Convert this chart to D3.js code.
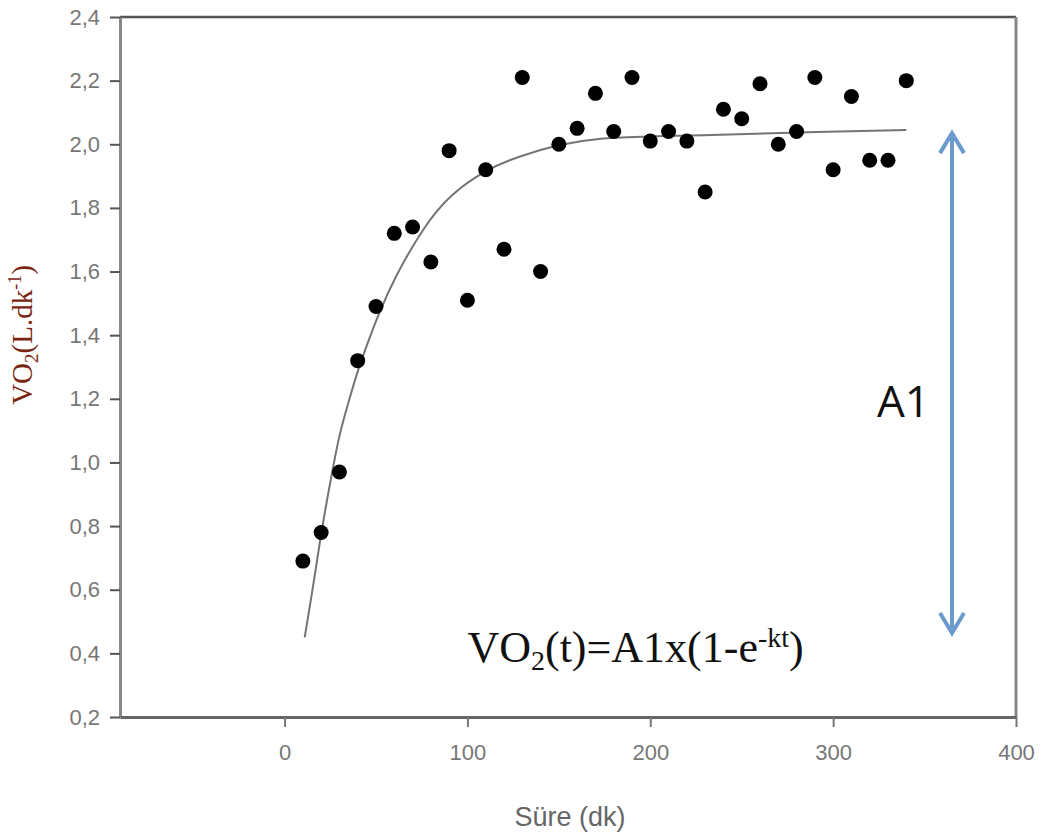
<!DOCTYPE html>
<html>
<head>
<meta charset="utf-8">
<script src="https://cdn.jsdelivr.net/npm/d3@7"></script>
<style>
  body { margin: 0; background: #fff; }
  svg { display: block; }
</style>
</head>
<body>
<div id="chart"></div>
<script>
// measured points (time in dk, VO2 in L/dk)
var times = [10, 20, 30, 40, 50, 60, 70, 80, 90, 100, 110, 120, 130, 140, 150, 160, 170,
  180, 190, 200, 210, 220, 230, 240, 250, 260, 270, 280, 290, 300, 310, 320, 330, 340];
var vo2 = [0.69, 0.78, 0.97, 1.32, 1.49, 1.72, 1.74, 1.63, 1.98, 1.51, 1.92, 1.67, 2.21, 1.60,
  2.00, 2.05, 2.16, 2.04, 2.21, 2.01, 2.04, 2.01, 1.85, 2.11, 2.08, 2.19, 2.00, 2.04, 2.21,
  1.92, 2.15, 1.95, 1.95, 2.20];

// fitted curve
var fitT = [11, 17, 20, 26, 30, 35, 40, 47, 51, 60, 76, 90, 110, 127, 150, 172, 200, 227, 265, 340];
var fitV = [0.45, 0.66, 0.78, 0.97, 1.09, 1.19, 1.29, 1.40, 1.46, 1.58, 1.74, 1.84, 1.92, 1.96,
  2.00, 2.02, 2.025, 2.028, 2.035, 2.045];

var xTicks = [0, 100, 200, 300, 400];
var yTicks = [0.2, 0.4, 0.6, 0.8, 1.0, 1.2, 1.4, 1.6, 1.8, 2.0, 2.2, 2.4];

var width = 1041,
  height = 837;
var mLeft = 120, mRight = 1016, mTop = 17, mBottom = 717;

var svg = d3.select("#chart").append("svg")
  .attr("width", width)
  .attr("height", height);

var x = d3.scaleLinear().domain([-90, 400]).range([mLeft, mRight]);
var y = d3.scaleLinear().domain([0.2, 2.4]).range([mBottom, mTop]);

var comma = function (v) { return d3.format(".1f")(v).replace(".", ","); };

// frame: top and right
svg.append("line")
  .attr("x1", mLeft).attr("x2", mRight).attr("y1", mTop).attr("y2", mTop)
  .attr("stroke", "#555").attr("stroke-width", 2.5);
svg.append("line")
  .attr("x1", mRight).attr("x2", mRight).attr("y1", mTop).attr("y2", mBottom)
  .attr("stroke", "#888").attr("stroke-width", 3);

// y axis
var yAxis = svg.append("g")
  .attr("transform", "translate(" + mLeft + ",0)")
  .call(d3.axisLeft(y).tickValues(yTicks).tickFormat(comma)
    .tickSize(10).tickSizeOuter(0).tickPadding(10));
yAxis.select(".domain").attr("stroke", "#888").attr("stroke-width", 3);
yAxis.selectAll(".tick line").attr("stroke", "#555").attr("stroke-width", 2);
yAxis.selectAll("text")
  .attr("font-family", "Liberation Sans, Arial, sans-serif")
  .attr("font-size", 22)
  .attr("fill", "#777");

// x axis
var xAxis = svg.append("g")
  .attr("transform", "translate(0," + mBottom + ")")
  .call(d3.axisBottom(x).tickValues(xTicks).tickSize(10).tickSizeOuter(0).tickPadding(17));
xAxis.select(".domain").attr("stroke", "#666").attr("stroke-width", 3);
xAxis.selectAll(".tick line").attr("stroke", "#777").attr("stroke-width", 2);
xAxis.selectAll("text")
  .attr("font-family", "Liberation Sans, Arial, sans-serif")
  .attr("font-size", 22)
  .attr("fill", "#777");

// axis titles
svg.append("text")
  .attr("x", 570).attr("y", 826)
  .attr("text-anchor", "middle")
  .attr("font-family", "Liberation Sans, Arial, sans-serif")
  .attr("font-size", 27)
  .attr("fill", "#666")
  .text("Süre (dk)");

var yl = svg.append("text")
  .attr("transform", "translate(32,335) rotate(-90)")
  .attr("text-anchor", "middle")
  .attr("font-family", "Liberation Serif, Times New Roman, serif")
  .attr("font-size", 29)
  .attr("fill", "#7a2410");
yl.append("tspan").text("VO");
yl.append("tspan").attr("dy", 6).attr("font-size", 19).text("2");
yl.append("tspan").attr("dy", -6).text("(L.dk");
yl.append("tspan").attr("dy", -11).attr("font-size", 18).text("-1");
yl.append("tspan").attr("dy", 11).text(")");

// fitted curve
var fit = fitT.map(function (t, i) { return { t: t, v: fitV[i] }; });
svg.append("path")
  .datum(fit)
  .attr("fill", "none")
  .attr("stroke", "#747474")
  .attr("stroke-width", 2)
  .attr("d", d3.line()
    .x(function (d) { return x(d.t); })
    .y(function (d) { return y(d.v); })
    .curve(d3.curveBasis));

// points
var data = times.map(function (t, i) { return { t: t, v: vo2[i] }; });
svg.selectAll("circle.pt")
  .data(data)
  .enter()
  .append("circle")
  .attr("class", "pt")
  .attr("cx", function (d) { return x(d.t); })
  .attr("cy", function (d) { return y(d.v); })
  .attr("r", 7.5)
  .attr("fill", "#000");

// A1 arrow
var ax = x(365), ay1 = y(2.035), ay2 = y(0.464);
var blue = "#6a9bcc";
svg.append("line")
  .attr("x1", ax).attr("x2", ax).attr("y1", ay1 + 2).attr("y2", ay2 - 2)
  .attr("stroke", blue).attr("stroke-width", 4);
svg.append("path")
  .attr("d", "M" + (ax - 12) + "," + (ay1 + 20) + "L" + ax + "," + ay1 + "L" + (ax + 12) + "," + (ay1 + 20))
  .attr("fill", "none").attr("stroke", blue).attr("stroke-width", 4)
  .attr("stroke-linejoin", "miter");
svg.append("path")
  .attr("d", "M" + (ax - 12) + "," + (ay2 - 20) + "L" + ax + "," + ay2 + "L" + (ax + 12) + "," + (ay2 - 20))
  .attr("fill", "none").attr("stroke", blue).attr("stroke-width", 4)
  .attr("stroke-linejoin", "miter");

svg.append("text")
  .attr("x", x(324)).attr("y", y(1.143))
  .attr("font-family", "Open Sans, sans-serif")
  .attr("font-size", 44)
  .attr("fill", "#111")
  .text("A1");

// equation
var eq = svg.append("text")
  .attr("x", x(100)).attr("y", y(0.373))
  .attr("font-family", "Liberation Serif, Times New Roman, serif")
  .attr("font-size", 44)
  .attr("fill", "#111");
eq.append("tspan").text("VO");
eq.append("tspan").attr("dy", 8).attr("font-size", 28).text("2");
eq.append("tspan").attr("dy", -8).text("(t)=A1x(1-e");
eq.append("tspan").attr("dy", -15).attr("font-size", 28).text("-kt");
eq.append("tspan").attr("dy", 15).text(")");
</script>
</body>
</html>
